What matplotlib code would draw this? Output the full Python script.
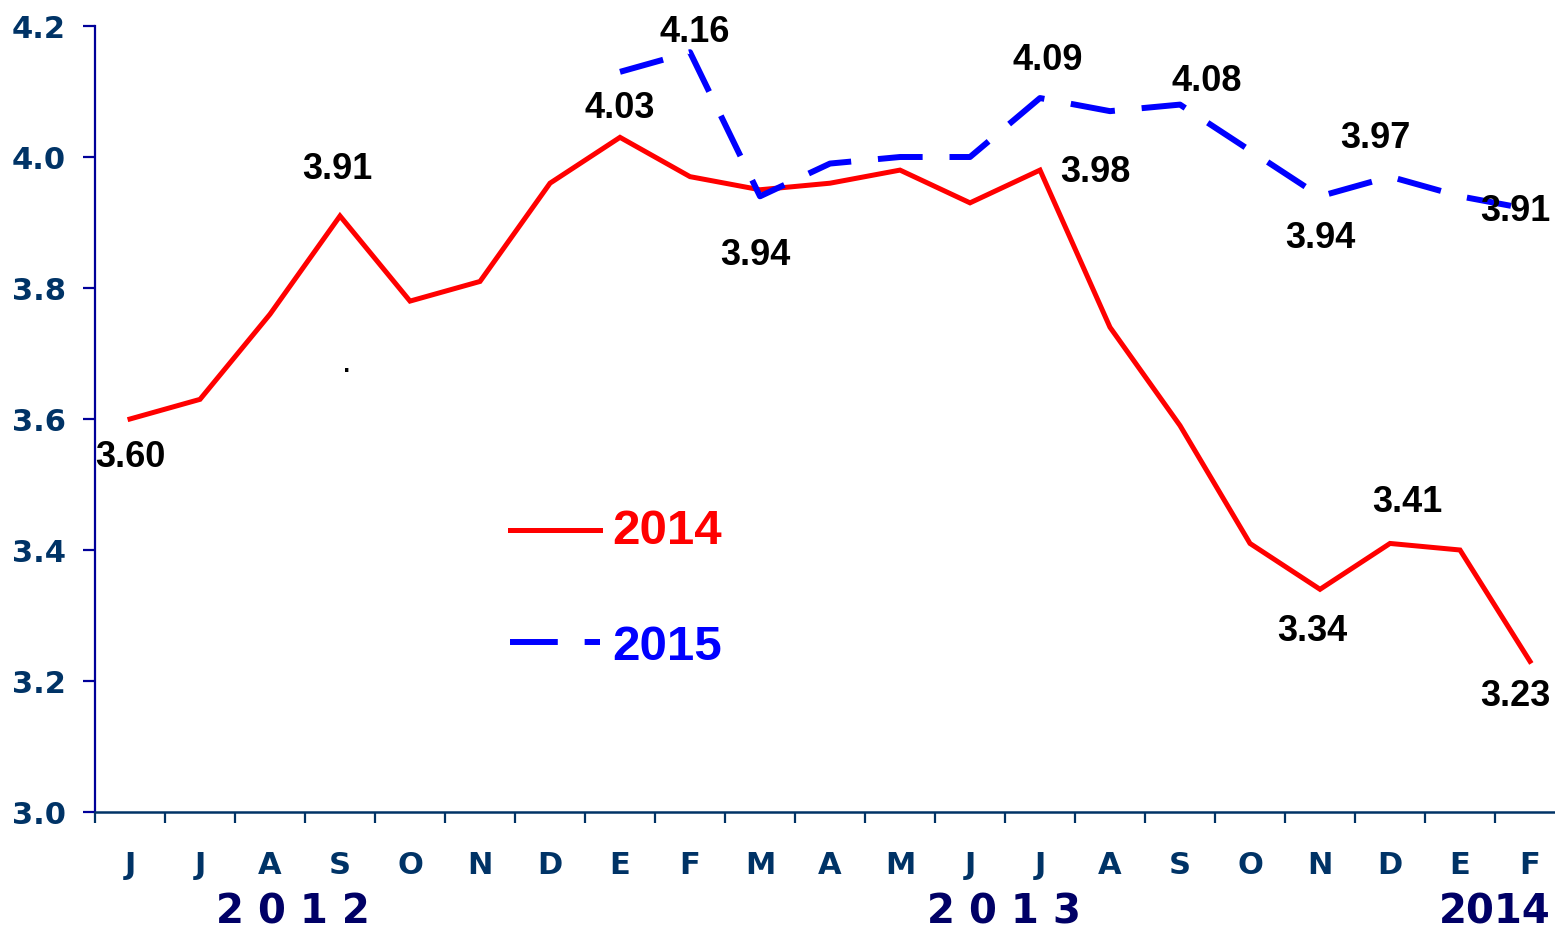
import numpy as np
import matplotlib
matplotlib.use("Agg")
import matplotlib.pyplot as plt

months = ["J", "J", "A", "S", "O", "N", "D", "E", "F", "M", "A", "M", "J", "J",
          "A", "S", "O", "N", "D", "E", "F"]
series_2014 = [3.60, 3.63, 3.76, 3.91, 3.78, 3.81, 3.96, 4.03, 3.97, 3.95, 3.96,
               3.98, 3.93, 3.98, 3.74, 3.59, 3.41, 3.34, 3.41, 3.40, 3.23]
series_2015 = [np.nan] * 7 + [4.13, 4.16, 3.94, 3.99, 4.00, 4.00, 4.09, 4.07,
                              4.08, 4.01, 3.94, 3.97, 3.94, 3.92]
year_labels = ["2 0 1 2", "2 0 1 3", "2014"]
year_pos = [2.33, 12.48, 19.5]
yticks = [3.0, 3.2, 3.4, 3.6, 3.8, 4.0, 4.2]

# labels: (index, text, dx_px, dy_px)
labels_2014 = [(0, "3.60", 0, -38), (3, "3.91", -3, 46), (7, "4.03", 0, 29),
               (13, "3.98", 55, -2), (17, "3.34", -8, -42), (18, "3.41", 17, 41),
               (20, "3.23", -15, -35)]
labels_2015 = [(8, "4.16", 5, 20), (9, "3.94", -5, -59), (13, "4.09", 8, 38),
               (15, "4.08", 27, 23), (17, "3.94", 0, -42), (18, "3.97", -15, 38),
               (20, "3.91", -15, -2)]

W, H = 1555, 935
fig = plt.figure(figsize=(W / 100, H / 100), dpi=100)
ax = fig.add_axes([95 / W, (H - 812) / H, 1470 / W, 786 / H])

x = np.arange(len(months))
navy = "#003366"
ax.plot(x, series_2014, color="#ff0000", lw=3.6, solid_joinstyle="miter")
ax.plot(x, series_2015, color="#0000ff", lw=4.3, dashes=(7.5, 4.5))

ax.set_xlim(-0.5, len(months) - 0.5)
ax.set_ylim(3.0, 4.2)

for s in ["top", "right"]:
    ax.spines[s].set_visible(False)
ax.spines["left"].set_color("#000099")
ax.spines["bottom"].set_color(navy)
ax.spines["left"].set_linewidth(1.6)
ax.spines["bottom"].set_linewidth(1.8)

ax.set_yticks(yticks)
ax.set_yticklabels([f"{v:.1f}" for v in yticks])
ax.tick_params(axis="y", direction="out", length=9, width=1.6, color="#000099",
               pad=12, labelsize=22, labelcolor=navy)
for t in ax.get_yticklabels():
    t.set_fontweight("bold")
    t.set_fontfamily("DejaVu Sans")

ax.set_xticks(np.arange(-0.5, len(months), 1.0))
ax.set_xticklabels([])
ax.tick_params(axis="x", which="major", direction="out", length=8, width=1.6, color=navy)
ax.set_xticks(x, minor=True)
ax.set_xticklabels(months, minor=True)
ax.tick_params(axis="x", which="minor", length=0, pad=28, labelsize=22, labelcolor=navy)
for t in ax.get_xticklabels(minor=True):
    t.set_fontweight("bold")
    t.set_fontfamily("DejaVu Sans")

lab_font = dict(fontsize=26, fontweight="bold", family="Liberation Sans", color="black",
                ha="center", va="center")
for i, txt, dx, dy in labels_2014:
    ax.annotate(txt, xy=(x[i], series_2014[i]), xytext=(dx * 0.72, dy * 0.72),
                textcoords="offset points", **lab_font)
for i, txt, dx, dy in labels_2015:
    ax.annotate(txt, xy=(x[i], series_2015[i]), xytext=(dx * 0.72, dy * 0.72),
                textcoords="offset points", **lab_font)

# stray dot present in the original
ax.text(3.1, 3.68, ".", fontsize=14, fontweight="bold", ha="center", va="center",
        color="black")

# year labels
for xp, lab in zip(year_pos, year_labels):
    fig.text((95 + (xp + 0.5) * 70) / W, (H - 913) / H, lab, fontsize=29,
             fontweight="bold", family="DejaVu Sans", color="#000066",
             ha="center", va="center")

# manual legend
fig.add_artist(plt.Line2D([510 / W, 600 / W], [(H - 530) / H] * 2, color="#ff0000",
                          lw=3.6))
fig.add_artist(plt.Line2D([510 / W, 600 / W], [(H - 642) / H] * 2, color="#0000ff",
                          lw=4.3, dashes=(8, 4.5)))
fig.text(612 / W, (H - 532) / H, "2014", fontsize=35.5, fontweight="bold",
         family="Liberation Sans", color="#ff0000", ha="left", va="center")
fig.text(612 / W, (H - 647) / H, "2015", fontsize=35.5, fontweight="bold",
         family="Liberation Sans", color="#0000ff", ha="left", va="center")

fig.savefig("out.png", dpi=100)
